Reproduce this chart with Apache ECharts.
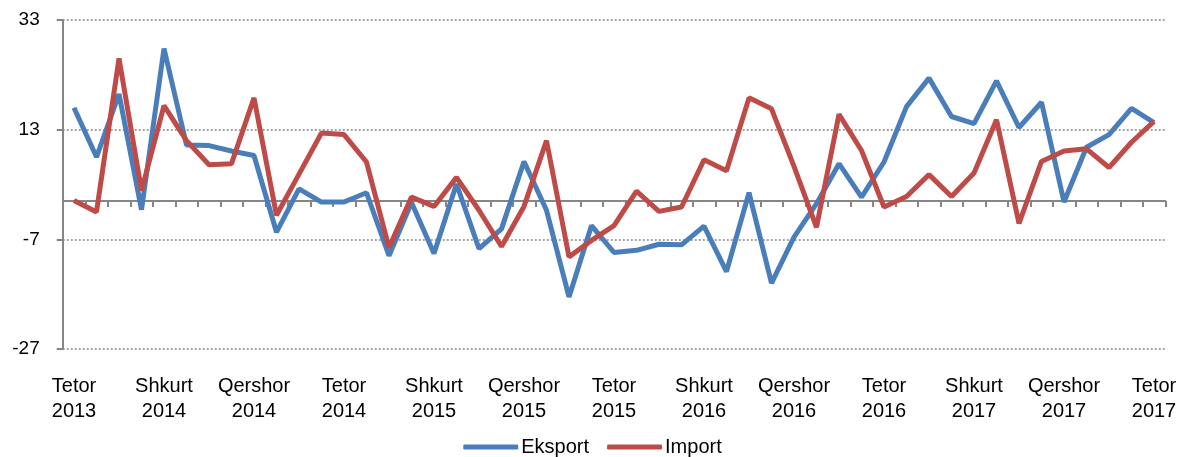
<!DOCTYPE html>
<html>
<head>
<meta charset="utf-8">
<script src="https://cdn.jsdelivr.net/npm/echarts@6/dist/echarts.min.js"></script>
<style>
html,body{margin:0;padding:0;background:#fff;}
#chart{width:1185px;height:457px;}
</style>
</head>
<body>
<div id="chart"></div>
<script>
// Months Oct 2013 .. Oct 2017
const monthNames = ['Janar','Shkurt','Mars','Prill','Maj','Qershor','Korrik','Gusht','Shtator','Tetor','Nëntor','Dhjetor'];
const categories = [];
for (let k = 0; k < 49; k++) {
  const m = (9 + k) % 12;
  const y = 2013 + Math.floor((9 + k) / 12);
  categories.push(monthNames[m] + '\n' + y);
}

const eksport = [17.0, 8.0, 19.5, -1.6, 27.8, 10.2, 10.1, 9.1, 8.3, -5.7,
  2.2, -0.2, -0.2, 1.5, -10.0, -0.3, -9.6, 3.1, -8.7, -5.1,
  7.2, -1.7, -17.5, -4.5, -9.4, -9.0, -7.9, -8.0, -4.6, -12.9,
  1.5, -15.0, -6.6, -0.5, 6.8, 0.7, 7.1, 17.2, 22.4, 15.4,
  14.1, 21.9, 13.4, 18.0, -0.2, 9.8, 12.1, 16.9, 14.3];

const importData = [0.1, -2.0, 26.0, 1.9, 17.4, 11.0, 6.6, 6.8, 18.8, -2.6,
  4.9, 12.4, 12.1, 7.1, -8.5, 0.7, -1.0, 4.3, -1.7, -8.3,
  -1.0, 11.0, -10.2, -7.2, -4.5, 1.8, -1.9, -1.1, 7.5, 5.5,
  18.8, 16.8, 6.3, -4.8, 15.8, 9.2, -1.1, 0.8, 4.8, 0.8,
  5.1, 14.8, -4.1, 7.2, 9.1, 9.5, 6.1, 10.7, 14.5];

const yTicks = [-27, -7, 13, 33];

const chart = echarts.init(document.getElementById('chart'), null, {renderer: 'canvas'});
const font = 'Liberation Sans, Arial, sans-serif';
chart.setOption({
  animation: false,
  backgroundColor: '#ffffff',
  grid: {left: 62.75, right: 19.75, top: 20, bottom: 108, containLabel: false},
  legend: {
    left: 'center',
    top: 432,
    icon: 'roundRect',
    itemWidth: 55,
    itemHeight: 5,
    itemGap: 18,
    textStyle: {fontFamily: font, fontSize: 20, color: '#000', padding: [0,0,0,-2]},
    data: ['Eksport', 'Import']
  },
  xAxis: [{
    type: 'category',
    data: categories,
    boundaryGap: true,
    position: 'bottom',
    axisLine: {show: false, onZero: false},
    axisTick: {show: false},
    splitLine: {show: false},
    axisLabel: {
      interval: 3,
      margin: 25,
      fontFamily: font,
      fontSize: 20,
      lineHeight: 25,
      color: '#000'
    }
  }, {
    type: 'category',
    data: categories,
    boundaryGap: true,
    position: 'top',
    axisLine: {show: true, onZero: true, onZeroAxisIndex: 0, lineStyle: {color: '#868686', width: 2}},
    axisTick: {show: true, inside: true, length: 6, interval: 0, lineStyle: {color: '#868686', width: 2}},
    axisLabel: {show: false},
    splitLine: {show: false}
  }],
  yAxis: {
    type: 'value',
    min: -27,
    max: 33,
    axisLine: {show: true, lineStyle: {color: '#868686', width: 2}},
    axisTick: {show: true, length: 6, customValues: yTicks, lineStyle: {color: '#868686', width: 2}},
    axisLabel: {
      customValues: yTicks,
      margin: 23,
      fontFamily: font,
      fontSize: 19,
      color: '#000'
    },
    splitLine: {show: true, lineStyle: {color: '#868686', width: 1.5, type: [2, 2]}}
  },
  series: [{
    name: 'Eksport',
    type: 'line',
    xAxisIndex: 0,
    data: eksport,
    showSymbol: false,
    symbol: 'none',
    lineStyle: {color: '#4A7EBB', width: 5},
    itemStyle: {color: '#4A7EBB'}
  }, {
    name: 'Import',
    type: 'line',
    xAxisIndex: 0,
    data: importData,
    showSymbol: false,
    symbol: 'none',
    lineStyle: {color: '#BE4B48', width: 5},
    itemStyle: {color: '#BE4B48'}
  }]
});
</script>
</body>
</html>
